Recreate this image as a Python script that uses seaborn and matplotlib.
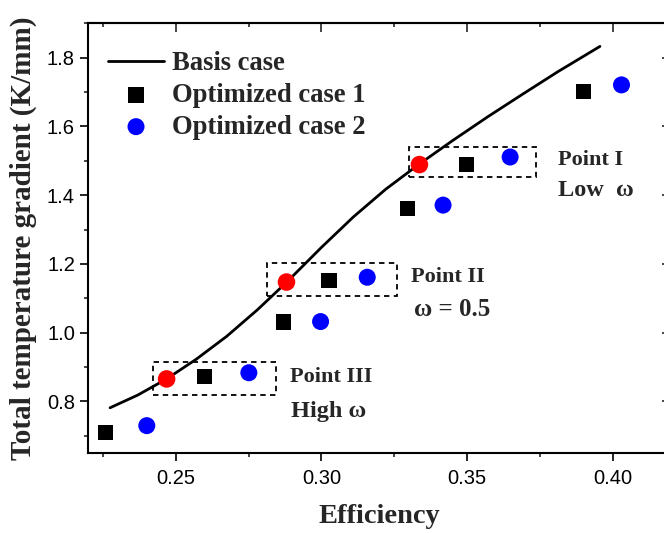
import matplotlib
matplotlib.use("Agg")
import matplotlib.pyplot as plt
from matplotlib.ticker import MultipleLocator, FormatStrFormatter
from matplotlib.patches import Rectangle
import seaborn as sns
import pandas as pd

# ---- data ----
basis_x = [0.2275, 0.2370, 0.2469, 0.2570, 0.2675, 0.2780, 0.2880, 0.3000,
           0.3110, 0.3220, 0.3333, 0.3450, 0.3570, 0.3690, 0.3810, 0.3955]
basis_y = [0.781, 0.818, 0.865, 0.922, 0.989, 1.066, 1.146, 1.248,
           1.337, 1.417, 1.489, 1.559, 1.628, 1.694, 1.759, 1.833]

opt1_x = [0.226, 0.260, 0.287, 0.3026, 0.3295, 0.3497, 0.3898]
opt1_y = [0.710, 0.872, 1.031, 1.152, 1.362, 1.490, 1.701]

opt2_x = [0.2401, 0.2751, 0.2997, 0.3157, 0.3417, 0.3647, 0.4029]
opt2_y = [0.729, 0.883, 1.032, 1.161, 1.371, 1.511, 1.721]

sel_x = [0.2469, 0.2880, 0.3336]
sel_y = [0.865, 1.147, 1.489]

# dashed boxes: (x0, x1, y0, y1)
box_x0 = [0.2423, 0.2814, 0.3301]
box_x1 = [0.2844, 0.3258, 0.3736]
box_y0 = [0.8184, 1.1075, 1.452]
box_y1 = [0.9153, 1.2017, 1.541]

ann_text = ["Point I", "Low  \u03c9", "Point II", "\u03c9 = 0.5", "Point III", "High \u03c9"]
ann_x = [0.3922, 0.3940, 0.3432, 0.3448, 0.3033, 0.3026]
ann_y = [1.503, 1.415, 1.161, 1.066, 0.872, 0.769]
ann_size = [16, 17.5, 16, 18, 16, 17.5]

df_basis = pd.DataFrame({"x": basis_x, "y": basis_y})
df_opt1 = pd.DataFrame({"x": opt1_x, "y": opt1_y})
df_opt2 = pd.DataFrame({"x": opt2_x, "y": opt2_y})
df_sel = pd.DataFrame({"x": sel_x, "y": sel_y})

sns.set_theme(style="ticks")
plt.rcParams["font.family"] = ["Liberation Sans", "DejaVu Sans"]

fig = plt.figure(figsize=(6.64, 5.33), dpi=100, facecolor="white")
ax = fig.add_axes([0.1328, 0.1505, 0.8783, 0.8056])
ax.set_facecolor("white")

sns.lineplot(data=df_basis, x="x", y="y", ax=ax, color="black", lw=2.0,
             label="Basis case", sort=True)
sns.scatterplot(data=df_opt1, x="x", y="y", ax=ax, marker="s", s=120,
                color="black", edgecolor="none", label="Optimized case 1", zorder=3)
sns.scatterplot(data=df_opt2, x="x", y="y", ax=ax, marker="o", s=150,
                color="#0000ff", edgecolor="none", label="Optimized case 2", zorder=3)
sns.scatterplot(data=df_sel, x="x", y="y", ax=ax, marker="o", s=160,
                color="#ff0000", edgecolor="none", zorder=4, legend=False)

for x0, x1, y0, y1 in zip(box_x0, box_x1, box_y0, box_y1):
    ax.add_patch(Rectangle((x0, y0), x1 - x0, y1 - y0, fill=False,
                           edgecolor="black", lw=1.3, linestyle=(0, (3, 2.4)), zorder=2))

for t, x, y, fs in zip(ann_text, ann_x, ann_y, ann_size):
    ax.text(x, y, t, ha="center", va="center", fontsize=fs, fontweight="bold",
            family=["Liberation Serif", "DejaVu Serif"])

ax.set_xlim(0.22, 0.42)
ax.set_ylim(0.65, 1.9)
ax.xaxis.set_major_locator(MultipleLocator(0.05))
ax.xaxis.set_minor_locator(MultipleLocator(0.025))
ax.yaxis.set_major_locator(MultipleLocator(0.2))
ax.yaxis.set_minor_locator(MultipleLocator(0.1))
ax.xaxis.set_major_formatter(FormatStrFormatter("%.2f"))
ax.yaxis.set_major_formatter(FormatStrFormatter("%.1f"))

ax.tick_params(which="major", direction="out", length=5.5, width=1.2,
               labelsize=14.5, pad=4, colors="black")
ax.tick_params(which="minor", direction="out", length=3, width=1.2)
ax.tick_params(axis="x", which="major", pad=6)
for sp in ax.spines.values():
    sp.set_visible(True)
    sp.set_linewidth(1.5)
    sp.set_color("black")

secx = ax.secondary_xaxis("top")
secx.xaxis.set_major_locator(MultipleLocator(0.05))
secx.xaxis.set_minor_locator(MultipleLocator(0.025))
secx.tick_params(which="major", direction="in", length=6.5, width=1.2, labeltop=False)
secx.tick_params(which="minor", direction="in", length=3, width=1.2)
secx.spines["top"].set_linewidth(1.5)

secy = ax.secondary_yaxis("right")
secy.yaxis.set_major_locator(MultipleLocator(0.2))
secy.yaxis.set_minor_locator(MultipleLocator(0.1))
secy.tick_params(which="major", direction="in", length=6.5, width=1.2, labelright=False)
secy.tick_params(which="minor", direction="in", length=3, width=1.2)

serif = ["Liberation Serif", "DejaVu Serif"]
ax.set_xlabel("Efficiency", labelpad=12, fontsize=20.5, fontweight="bold", family=serif)
ax.set_ylabel("Total temperature gradient (K/mm)", labelpad=7, fontsize=21,
              fontweight="bold", family=serif)

leg = ax.legend(loc="upper left", bbox_to_anchor=(0.034, 0.935), frameon=False,
                borderaxespad=0, borderpad=0, handlelength=2.1, handletextpad=0.3,
                labelspacing=0.25,
                prop={"family": "Liberation Serif", "weight": "bold", "size": 19.2})

fig.savefig("out.png", dpi=100, facecolor="white")
